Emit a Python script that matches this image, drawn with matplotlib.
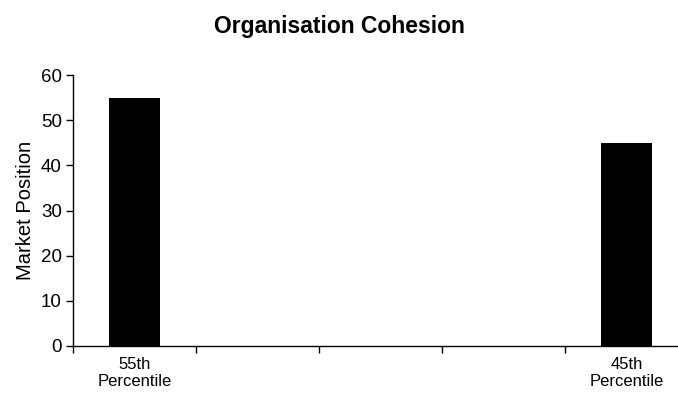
import matplotlib
matplotlib.use("Agg")
import matplotlib.pyplot as plt

plt.rcParams['font.family'] = ['Liberation Sans', 'DejaVu Sans']

categories = ["55th\nPercentile", "", "", "", "45th\nPercentile"]
values = [55, None, None, None, 45]
yticks = [0, 10, 20, 30, 40, 50, 60]

fig = plt.figure(figsize=(6.78, 4.04), dpi=100)
ax = fig.add_axes([73/678, 1 - 346/404, 615/678, 271/404])

xs = list(range(len(categories)))
bar_x = [x for x, v in zip(xs, values) if v is not None]
bar_v = [v for v in values if v is not None]
ax.bar(bar_x, bar_v, width=0.41, color="black", zorder=3)

ax.set_xlim(-0.5, len(categories) - 0.5)
ax.set_ylim(0, 60)
ax.set_yticks(yticks)
ax.set_yticklabels([str(t) for t in yticks], fontsize=13.5)

# category ticks sit on the boundaries between categories
ax.set_xticks([i - 0.5 for i in range(len(categories))])
ax.set_xticklabels([])
ax.set_xticks(xs, minor=True)
ax.set_xticklabels(categories, minor=True, fontsize=12, linespacing=1.15)
ax.tick_params(axis='x', which='minor', length=0, pad=8)
ax.tick_params(axis='x', which='major', length=5, width=1, direction='out')
ax.tick_params(axis='y', length=5, width=1, direction='out', pad=3)

for s in ("top", "right"):
    ax.spines[s].set_visible(False)
for s in ("left", "bottom"):
    ax.spines[s].set_linewidth(1)

ax.set_ylabel("Market Position", fontsize=14.5, labelpad=4)
fig.text(0.5, 1 - 26/404, "Organisation Cohesion", ha="center", va="center",
         fontsize=16.5, fontweight="bold")

fig.savefig("out.png", dpi=100)
